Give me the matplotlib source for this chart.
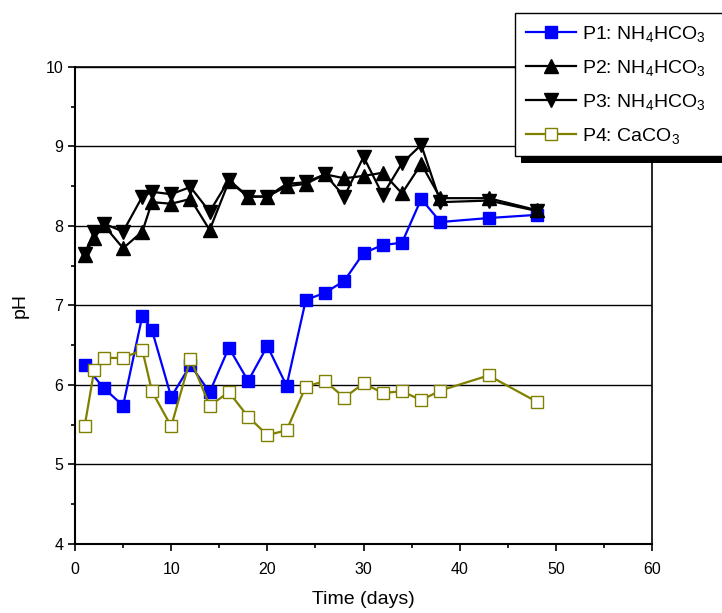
import matplotlib
matplotlib.use("Agg")
import matplotlib.pyplot as plt
from matplotlib.patches import Rectangle
from matplotlib.ticker import MultipleLocator

plt.rcParams["font.family"] = ["Liberation Sans", "DejaVu Sans"]
plt.rcParams["mathtext.fontset"] = "custom"
plt.rcParams["mathtext.rm"] = "Liberation Sans"
plt.rcParams["mathtext.it"] = "Liberation Sans:italic"
plt.rcParams["mathtext.bf"] = "Liberation Sans:bold"

# Sampling days
days_p1 = [1, 3, 5, 7, 8, 10, 12, 14, 16, 18, 20, 22, 24, 26, 28, 30, 32, 34, 36, 38, 43, 48]
days_all = [1, 2, 3, 5, 7, 8, 10, 12, 14, 16, 18, 20, 22, 24, 26, 28, 30, 32, 34, 36, 38, 43, 48]

# pH series
ph_p1 = [6.25, 5.96, 5.74, 6.87, 6.69, 5.85, 6.25, 5.91, 6.47, 6.05, 6.49, 5.99,
         7.07, 7.16, 7.31, 7.66, 7.76, 7.79, 8.34, 8.05, 8.10, 8.14]
ph_p2 = [7.64, 7.85, 8.01, 7.72, 7.93, 8.30, 8.28, 8.34, 7.95, 8.56, 8.37, 8.37, 8.50,
         8.53, 8.65, 8.60, 8.63, 8.67, 8.41, 8.78, 8.35, 8.35, 8.20]
ph_p3 = [7.65, 7.93, 8.03, 7.93, 8.37, 8.43, 8.40, 8.49, 8.18, 8.58, 8.37, 8.37, 8.53,
         8.55, 8.65, 8.37, 8.87, 8.39, 8.79, 9.02, 8.30, 8.32, 8.19]
ph_p4 = [5.48, 6.19, 6.34, 6.34, 6.44, 5.92, 5.48, 6.33, 5.74, 5.91, 5.60, 5.37, 5.43,
         5.98, 6.05, 5.84, 6.02, 5.90, 5.92, 5.81, 5.93, 6.12, 5.79]

labels = [r"P1: NH$_4$HCO$_3$", r"P2: NH$_4$HCO$_3$", r"P3: NH$_4$HCO$_3$", r"P4: CaCO$_3$"]

fig = plt.figure(figsize=(7.22, 6.13), dpi=100)
ax = fig.add_axes([0.1039, 0.1126, 0.7992, 0.7781])

ax.plot(days_p1, ph_p1, color="#0000ff", lw=1.6, marker="s", ms=8.5,
        mfc="#0000ff", mec="#0000ff", label=labels[0], zorder=3)
ax.plot(days_all, ph_p2, color="black", lw=1.6, marker="^", ms=10.5,
        mfc="black", mec="black", label=labels[1], zorder=3)
ax.plot(days_all, ph_p3, color="black", lw=1.6, marker="v", ms=10.5,
        mfc="black", mec="black", label=labels[2], zorder=3)
ax.plot(days_all, ph_p4, color="#808000", lw=1.6, marker="s", ms=8.5,
        mfc="white", mec="#808000", mew=1.0, label=labels[3], zorder=4)

ax.set_xlim(0, 60)
ax.set_ylim(4, 10)
ax.xaxis.set_major_locator(MultipleLocator(10))
ax.xaxis.set_minor_locator(MultipleLocator(5))
ax.yaxis.set_major_locator(MultipleLocator(1))
ax.yaxis.set_minor_locator(MultipleLocator(0.5))
ax.tick_params(which="major", direction="out", length=5, width=1.2, labelsize=11.5)
ax.tick_params(which="minor", direction="out", length=3, width=1.2)
ax.tick_params(axis="x", pad=8)

ax.grid(axis="y", which="major", color="black", lw=1.0, zorder=1)
ax.set_axisbelow(True)
for side in ["left", "bottom"]:
    ax.spines[side].set_linewidth(1.5)
for side in ["top", "right"]:
    ax.spines[side].set_linewidth(1.2)

ax.set_xlabel("Time (days)", fontsize=14, labelpad=10)
ax.set_ylabel("pH", fontsize=14, labelpad=12)

leg = ax.legend(loc="upper left", bbox_to_anchor=(0.7626, 1.113), borderaxespad=0,
                fontsize=14, frameon=False, handlelength=2.6, handletextpad=0.3,
                labelspacing=0.72, borderpad=0.55, markerscale=0.95)
leg.set_zorder(10)

# legend box running off the right edge, with a solid drop shadow
fig.canvas.draw()
bb = leg.get_window_extent()
W, H = fig.bbox.width, fig.bbox.height
box_w = 260.0
shadow = Rectangle(((bb.x0 + 6) / W, (bb.y0 - 7) / H), box_w / W, bb.height / H,
                   transform=fig.transFigure, facecolor="black", edgecolor="none",
                   clip_on=False, zorder=9)
frame = Rectangle((bb.x0 / W, bb.y0 / H), box_w / W, bb.height / H,
                  transform=fig.transFigure, facecolor="white", edgecolor="black",
                  lw=1.0, clip_on=False, zorder=9.5)
ax.add_patch(shadow)
ax.add_patch(frame)

fig.savefig("out.png", dpi=100)
